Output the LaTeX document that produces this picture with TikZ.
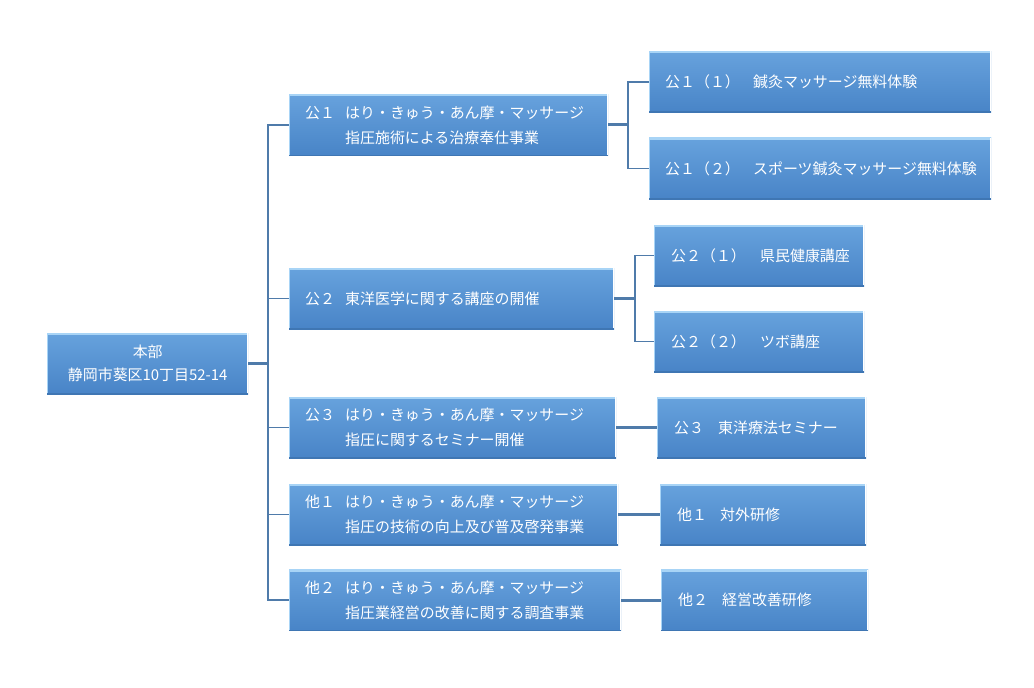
\documentclass[tikz,border=0pt]{standalone}
\usepackage{fontspec}
\newfontfamily\cjk{Noto Sans CJK JP}
\definecolor{boxtop}{HTML}{67A2DD}
\definecolor{boxbot}{HTML}{4884C7}
\definecolor{boxhi}{HTML}{A8D4F6}
\definecolor{boxdk}{HTML}{3F76B3}
\definecolor{conn}{HTML}{4F7BAA}
\tikzset{
  box/.style={rectangle, anchor=west, inner ysep=0pt, inner xsep=16bp,
    minimum height=61bp, top color=boxtop, bottom color=boxbot,
    text=white, align=left, font=\cjk\fontsize{15}{25}\selectfont,
    path picture={
      \draw[boxhi, line width=4bp] (path picture bounding box.north west) -- (path picture bounding box.north east);
      \draw[boxhi, line width=2bp] (path picture bounding box.north west) -- (path picture bounding box.south west);
      \draw[white, line width=3bp] (path picture bounding box.north east) -- (path picture bounding box.south east);
      \draw[boxdk, line width=2bp] (path picture bounding box.south west) -- (path picture bounding box.south east);
    }},
  sbox/.style={box, inner xsep=17bp},
  conn/.style={draw=conn, line width=1.5bp},
  thick conn/.style={draw=conn, line width=3bp},
}
\begin{document}
\begin{tikzpicture}[x=1bp, y=-1bp]
\useasboundingbox[fill=white] (0,0) rectangle (1034,688);
% root
\node[box, align=center, inner xsep=0pt, minimum width=201bp, text width=201bp,
  font=\cjk\fontsize{15}{23}\selectfont] (root) at (47,363.5) {本部\\静岡市葵区10丁目52-14};
% level 1
\node[box, minimum width=319bp, text width=287bp] (k1) at (289,125)
  {\makebox[40bp][l]{公１}はり・きゅう・あん摩・マッサージ\\\hspace*{40bp}指圧施術による治療奉仕事業};
\node[box, minimum width=325bp, text width=293bp] (k2) at (289,298.5)
  {\makebox[40bp][l]{公２}東洋医学に関する講座の開催};
\node[box, minimum width=327bp, text width=295bp] (k3) at (289,427.5)
  {\makebox[40bp][l]{公３}はり・きゅう・あん摩・マッサージ\\\hspace*{40bp}指圧に関するセミナー開催};
\node[box, minimum width=329bp, text width=297bp] (o1) at (289,514.5)
  {\makebox[40bp][l]{他１}はり・きゅう・あん摩・マッサージ\\\hspace*{40bp}指圧の技術の向上及び普及啓発事業};
\node[box, minimum width=332bp, text width=300bp] (o2) at (289,600)
  {\makebox[40bp][l]{他２}はり・きゅう・あん摩・マッサージ\\\hspace*{40bp}指圧業経営の改善に関する調査事業};
% level 2
\node[box, minimum width=342bp, text width=310bp] (k11) at (649,82)
  {\makebox[88bp][l]{公１（１）}鍼灸マッサージ無料体験};
\node[box, minimum width=342bp, text width=310bp] (k12) at (649,168.5)
  {\makebox[88bp][l]{公１（２）}スポーツ鍼灸マッサージ無料体験};
\node[sbox, minimum width=210bp, text width=176bp] (k21) at (654,255.5)
  {\makebox[89bp][l]{公２（１）}県民健康講座};
\node[sbox, minimum width=210bp, text width=176bp] (k22) at (654,341.5)
  {\makebox[89bp][l]{公２（２）}ツボ講座};
\node[sbox, minimum width=209bp, text width=175bp] (k3c) at (657,427.5)
  {\makebox[44bp][l]{公３}東洋療法セミナー};
\node[sbox, minimum width=206bp, text width=172bp] (o1c) at (660,514.5)
  {\makebox[43bp][l]{他１}対外研修};
\node[sbox, minimum width=207bp, text width=173bp] (o2c) at (661,600)
  {\makebox[44bp][l]{他２}経営改善研修};
% connectors
\coordinate (trunk) at (268,0);
\coordinate (b1) at (628,0);
\coordinate (b2) at (635,0);
\draw[thick conn] (root.east) -- (root.east -| trunk);
\draw[conn] (k1.west) -| (trunk |- o2.west) -- (o2.west);
\draw[conn] (k2.west) -- (k2.west -| trunk);
\draw[conn] (k3.west) -- (k3.west -| trunk);
\draw[conn] (o1.west) -- (o1.west -| trunk);
\draw[thick conn] (k1.east) -- (k1.east -| b1);
\draw[conn] (k11.west) -| (b1 |- k12.west) -- (k12.west);
\draw[thick conn] (k2.east) -- (k2.east -| b2);
\draw[conn] (k21.west) -| (b2 |- k22.west) -- (k22.west);
\draw[thick conn] (k3.east) -- (k3c.west);
\draw[thick conn] (o1.east) -- (o1c.west);
\draw[thick conn] (o2.east) -- (o2c.west);
\end{tikzpicture}
\end{document}
